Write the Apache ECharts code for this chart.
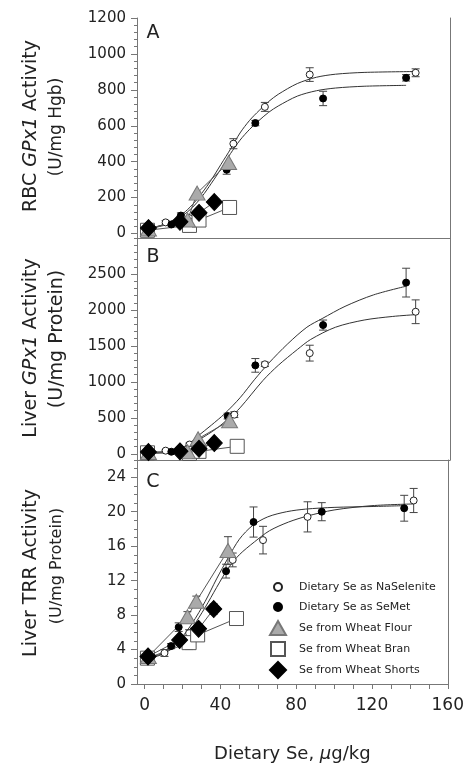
<!DOCTYPE html>
<html><head><meta charset="utf-8">
<script src="https://cdn.jsdelivr.net/npm/echarts@6/dist/echarts.min.js"></script>
<style>html,body{margin:0;padding:0;background:#fff}#c{width:467px;height:766px}</style>
</head><body><div id="c"></div><script>
const FONT = "'DejaVu Sans', sans-serif";

// ---------- Panel A: RBC GPx1 activity ----------
const A_selenite = [[2.5,30],[11,62],[23.5,85],[46.5,500],[63,705],[86.5,885],[142,895]];
const A_selenite_err = [8,10,10,28,25,38,22];
const A_semet = [[3,35],[14,50],[19,100],[43,355],[58,615],[93.5,752],[137,867]];
const A_semet_err = [8,8,15,25,15,40,18];
const A_flour = [[2,25],[22.5,75],[27.5,225],[44,395]];
const A_bran = [[1.5,18],[23.5,45],[28.5,75],[44.5,145]];
const A_shorts = [[2,30],[18.5,65],[28.5,115],[36.5,175]];
const A_fit_selenite = [[3,28],[10,50],[15,75],[20,110],[25,160],[30,225],[35,300],[40,385],[45,470],[50,560],[55,630],[60,685],[65,735],[70,775],[80,835],[90,870],[100,887],[115,897],[142,902]];
const A_fit_semet = [[3,28],[10,48],[15,70],[20,100],[25,145],[30,205],[35,280],[40,360],[45,445],[50,520],[55,580],[60,630],[65,675],[70,710],[80,765],[90,795],[100,810],[115,820],[137,825]];
const A_ticks = [0,200,400,600,800,1000,1200];

// ---------- Panel B: Liver GPx1 activity ----------
const B_selenite = [[2.5,20],[11,45],[23.5,130],[47,545],[63,1245],[86.5,1400],[142,1975]];
const B_selenite_err = [10,10,20,40,30,110,165];
const B_semet = [[3,25],[14,30],[19,60],[43.5,525],[58,1230],[93.5,1790],[137,2380]];
const B_semet_err = [10,10,15,40,95,70,200];
const B_flour = [[2,20],[22.5,30],[28,210],[44.5,460]];
const B_bran = [[1.5,15],[23.5,5],[28.5,35],[48.5,105]];
const B_shorts = [[2,25],[18.5,35],[28.5,70],[36.5,150]];
const B_fit_semet = [[3,10],[15,40],[22,120],[28,250],[35,400],[42,560],[50,780],[57.5,1030],[65,1260],[75,1530],[85,1760],[93,1880],[105,2050],[120,2210],[137,2330]];
const B_fit_selenite = [[3,10],[15,30],[22,90],[30,220],[37,340],[44,490],[50,640],[62,1020],[70,1230],[80,1450],[87,1590],[100,1760],[115,1860],[130,1910],[142,1935]];
const B_ticks = [0,500,1000,1500,2000,2500];

// ---------- Panel C: Liver TRR activity ----------
const C_selenite = [[2.5,2.9],[10.5,3.6],[23.5,5.9],[46.5,14.4],[62.5,16.7],[86,19.4],[142,21.3]];
const C_selenite_err = [0.3,0.4,0.4,0.8,1.6,1.75,1.4];
const C_semet = [[3,3.0],[14,4.4],[18,6.6],[43,13.1],[57.5,18.8],[93.5,20.0],[137,20.4]];
const C_semet_err = [0.3,0.3,0.5,0.8,1.75,1.05,1.5];
const C_flour = [[2,3.2],[22.6,7.8],[27.3,9.6],[44,15.5]];
const C_flour_err = [0.2,0.6,0.6,1.6];
const C_bran = [[1.5,3.0],[23.5,4.8],[28,5.7],[48.5,7.6]];
const C_bran_err = [0.2,0.8,0.6,0.3];
const C_shorts = [[1.8,3.2],[18.5,5.1],[28.5,6.4],[36.5,8.7]];
const C_shorts_err = [0.2,0.4,0.5,0.6];
const C_fit_semet = [[3,3.1],[10,3.6],[18,5.0],[25,7.0],[32,9.6],[38,12.2],[44,14.6],[50,16.8],[57,18.4],[65,19.4],[75,20.0],[85,20.3],[100,20.5],[120,20.6],[137,20.7]];
const C_fit_selenite = [[3,3.0],[10,3.5],[18,4.7],[25,6.5],[32,8.9],[38,11.2],[44,13.4],[50,15.0],[58,16.5],[66,17.8],[76,18.8],[86,19.5],[100,20.2],[120,20.7],[142,20.9]];
const C_ticks = [0,4,8,12,16,20,24];

const X_ticks = [0,10,20,30,40,50,60,70,80,90,100,110,120,130,140,150,160];
const X_labels = [0,40,80,120,160];

const NAMES = ['Dietary Se as NaSelenite','Dietary Se as SeMet','Se from Wheat Flour','Se from Wheat Bran','Se from Wheat Shorts'];

function minorTicks(lo, hi, step){ const r=[]; for(let v=lo; v<=hi+1e-9; v+=step) r.push(+v.toFixed(4)); return r; }
function withErr(pts, errs){ return pts.map((p,i)=>[p[0],p[1],errs[i]]); }

const panels = [
  {min:-25, max:1200, ticks:A_ticks, minor:minorTicks(0,1200,40),
   sel:A_selenite, sem:A_semet, flour:A_flour, bran:A_bran, shorts:A_shorts,
   err:[withErr(A_selenite,A_selenite_err), withErr(A_semet,A_semet_err)].flat(),
   fits:[A_fit_selenite, A_fit_semet]},
  {min:-85, max:3000, ticks:B_ticks, minor:minorTicks(0,3000,100),
   sel:B_selenite, sem:B_semet, flour:B_flour, bran:B_bran, shorts:B_shorts,
   err:[withErr(B_selenite,B_selenite_err), withErr(B_semet,B_semet_err)].flat(),
   fits:[B_fit_selenite, B_fit_semet]},
  {min:0, max:26, ticks:C_ticks, minor:minorTicks(0,26,1),
   sel:C_selenite, sem:C_semet, flour:C_flour, bran:C_bran, shorts:C_shorts,
   err:[withErr(C_selenite,C_selenite_err), withErr(C_semet,C_semet_err), withErr(C_flour,C_flour_err), withErr(C_bran,C_bran_err), withErr(C_shorts,C_shorts_err)].flat(),
   fits:[C_fit_selenite, C_fit_semet]}
];

const AXC = '#777';
const grids = [
  {left:137, right:17, top:18, height:220},
  {left:137, right:17, top:238, height:222},
  {left:137, right:17, top:460, height:224}
];
const plain = v => String(v);
const xAxes = [], yAxes = [], series = [];
panels.forEach((p, i) => {
  const last = i === 2;
  xAxes.push({
    gridIndex:i, type:'value', min:-4, max:160,
    axisLine:{show:true, onZero:false, lineStyle:{color:AXC, width:1}},
    axisTick:{show:last, customValues:X_ticks, length:5, inside:false, lineStyle:{color:AXC}},
    axisLabel:{show:last, customValues:X_labels, formatter:plain, fontSize:17, fontFamily:FONT, color:'#222', margin:13},
    splitLine:{show:false},
    name: last ? 'Dietary Se, {i|\u03bc}g/kg' : '',
    nameLocation:'middle', nameGap:61,
    nameTextStyle:{fontSize:18, fontFamily:FONT, color:'#222', rich:{i:{fontSize:18, fontStyle:'italic', fontFamily:FONT, color:'#222'}}}
  });
  yAxes.push({
    gridIndex:i, type:'value', min:p.min, max:p.max, position:'left',
    axisLine:{show:true, onZero:false, lineStyle:{color:AXC, width:1}},
    axisTick:{show:true, customValues:p.ticks, length:6, lineStyle:{color:AXC}},
    axisLabel:{customValues:p.ticks, formatter:plain, fontSize:15, fontFamily:FONT, color:'#222', margin:11},
    splitLine:{show:false}
  });
  yAxes.push({
    gridIndex:i, type:'value', min:p.min, max:p.max, position:'left',
    axisLine:{show:false, onZero:false},
    axisTick:{show:true, customValues:p.minor, length:3, lineStyle:{color:AXC}},
    axisLabel:{show:false}, splitLine:{show:false}
  });
  yAxes.push({
    gridIndex:i, type:'value', min:p.min, max:p.max, position:'right',
    axisLine:{show:true, onZero:false, lineStyle:{color:AXC, width:1}},
    axisTick:{show:false}, axisLabel:{show:false}, splitLine:{show:false}
  });
  const yi = i*3;
  p.fits.forEach(f => series.push({
    type:'line', xAxisIndex:i, yAxisIndex:yi, data:f, smooth:0.3, showSymbol:false, silent:true,
    lineStyle:{color:'#333', width:1}, z:1
  }));
  [p.flour, p.bran, p.shorts].forEach(d => series.push({
    type:'line', xAxisIndex:i, yAxisIndex:yi, data:d, smooth:false, showSymbol:false, silent:true,
    lineStyle:{color:'#555', width:1}, z:1
  }));
  series.push({
    type:'custom', xAxisIndex:i, yAxisIndex:yi, data:p.err, silent:true, z:2,
    renderItem:(params, api) => {
      const x = api.value(0), y = api.value(1), e = api.value(2);
      const t = api.coord([x, y+e]), b = api.coord([x, y-e]);
      const w = 4, st = {stroke:'#444', lineWidth:1};
      return {type:'group', children:[
        {type:'line', shape:{x1:t[0], y1:t[1], x2:b[0], y2:b[1]}, style:st},
        {type:'line', shape:{x1:t[0]-w, y1:t[1], x2:t[0]+w, y2:t[1]}, style:st},
        {type:'line', shape:{x1:b[0]-w, y1:b[1], x2:b[0]+w, y2:b[1]}, style:st}
      ]};
    }
  });
  const nm = k => last ? NAMES[k] : ('p'+i+'_'+k);
  series.push({type:'scatter', name:nm(0), xAxisIndex:i, yAxisIndex:yi, data:p.sel, symbol:'circle', symbolSize:7,
    itemStyle:{color:'#fff', borderColor:'#222', borderWidth:1, opacity:1}, z:3});
  series.push({type:'scatter', name:nm(1), xAxisIndex:i, yAxisIndex:yi, data:p.sem, symbol:'circle', symbolSize:7,
    itemStyle:{color:'#000', borderColor:'#000', borderWidth:1, opacity:1}, z:4});
  series.push({type:'scatter', name:nm(3), xAxisIndex:i, yAxisIndex:yi, data:p.bran, symbol:'rect', symbolSize:14,
    itemStyle:{color:'#fff', borderColor:'#555', borderWidth:1, opacity:1}, z:5});
  series.push({type:'scatter', name:nm(2), xAxisIndex:i, yAxisIndex:yi, data:p.flour, symbol:'triangle', symbolSize:[16,14],
    itemStyle:{color:'#aaa', borderColor:'#777', borderWidth:1, opacity:1}, z:6});
  series.push({type:'scatter', name:nm(4), xAxisIndex:i, yAxisIndex:yi, data:p.shorts, symbol:'diamond', symbolSize:[16,17],
    itemStyle:{color:'#000', borderColor:'#000', borderWidth:1, opacity:1}, z:7});
});

const legendText = pad => ({fontSize:11, fontFamily:FONT, color:'#222', lineHeight:14, padding:[0,0,0,pad]});
const legends = [
  {data:[NAMES[0]], left:273, top:580, itemWidth:8, itemHeight:8, textStyle:legendText(12)},
  {data:[NAMES[1]], left:273, top:600, itemWidth:8, itemHeight:8, textStyle:legendText(12)},
  {data:[NAMES[2]], left:269, top:620, itemWidth:16, itemHeight:14, textStyle:legendText(8)},
  {data:[NAMES[3]], left:270, top:641, itemWidth:14, itemHeight:14, textStyle:legendText(9)},
  {data:[NAMES[4]], left:269, top:661, itemWidth:16, itemHeight:16, textStyle:legendText(8)}
].map(l => Object.assign({orient:'vertical', padding:0, selectedMode:false}, l));

const tstyle = (txt, size) => ({
  text: txt, align:'center', verticalAlign:'middle', fill:'#222',
  rich: {n:{fontSize:size, fontFamily:FONT, fill:'#222', color:'#222'}, i:{fontSize:size, fontFamily:FONT, fontStyle:'italic', fill:'#222', color:'#222'}}
});
const graphic = [
  {type:'text', x:31, y:126, rotation:Math.PI/2, style:tstyle('{n|RBC }{i|GPx1}{n| Activity}', 19)},
  {type:'text', x:57, y:127, rotation:Math.PI/2, style:tstyle('{n|(U/mg Hgb)}', 17)},
  {type:'text', x:31, y:348, rotation:Math.PI/2, style:tstyle('{n|Liver }{i|GPx1}{n| Activity}', 19)},
  {type:'text', x:57, y:339, rotation:Math.PI/2, style:tstyle('{n|(U/mg Protein)}', 19)},
  {type:'text', x:31, y:573, rotation:Math.PI/2, style:tstyle('{n|Liver TRR Activity}', 19)},
  {type:'text', x:57, y:566, rotation:Math.PI/2, style:tstyle('{n|(U/mg Protein)}', 16)},
  {type:'text', x:153, y:33, style:tstyle('{n|A}', 19)},
  {type:'text', x:153, y:257, style:tstyle('{n|B}', 19)},
  {type:'text', x:153, y:482, style:tstyle('{n|C}', 19)}
];

const chart = echarts.init(document.getElementById('c'), null, {renderer:'canvas'});
chart.setOption({
  animation:false, backgroundColor:'#fff',
  grid:grids, xAxis:xAxes, yAxis:yAxes, series:series, legend:legends, graphic:graphic
});
</script></body></html>
